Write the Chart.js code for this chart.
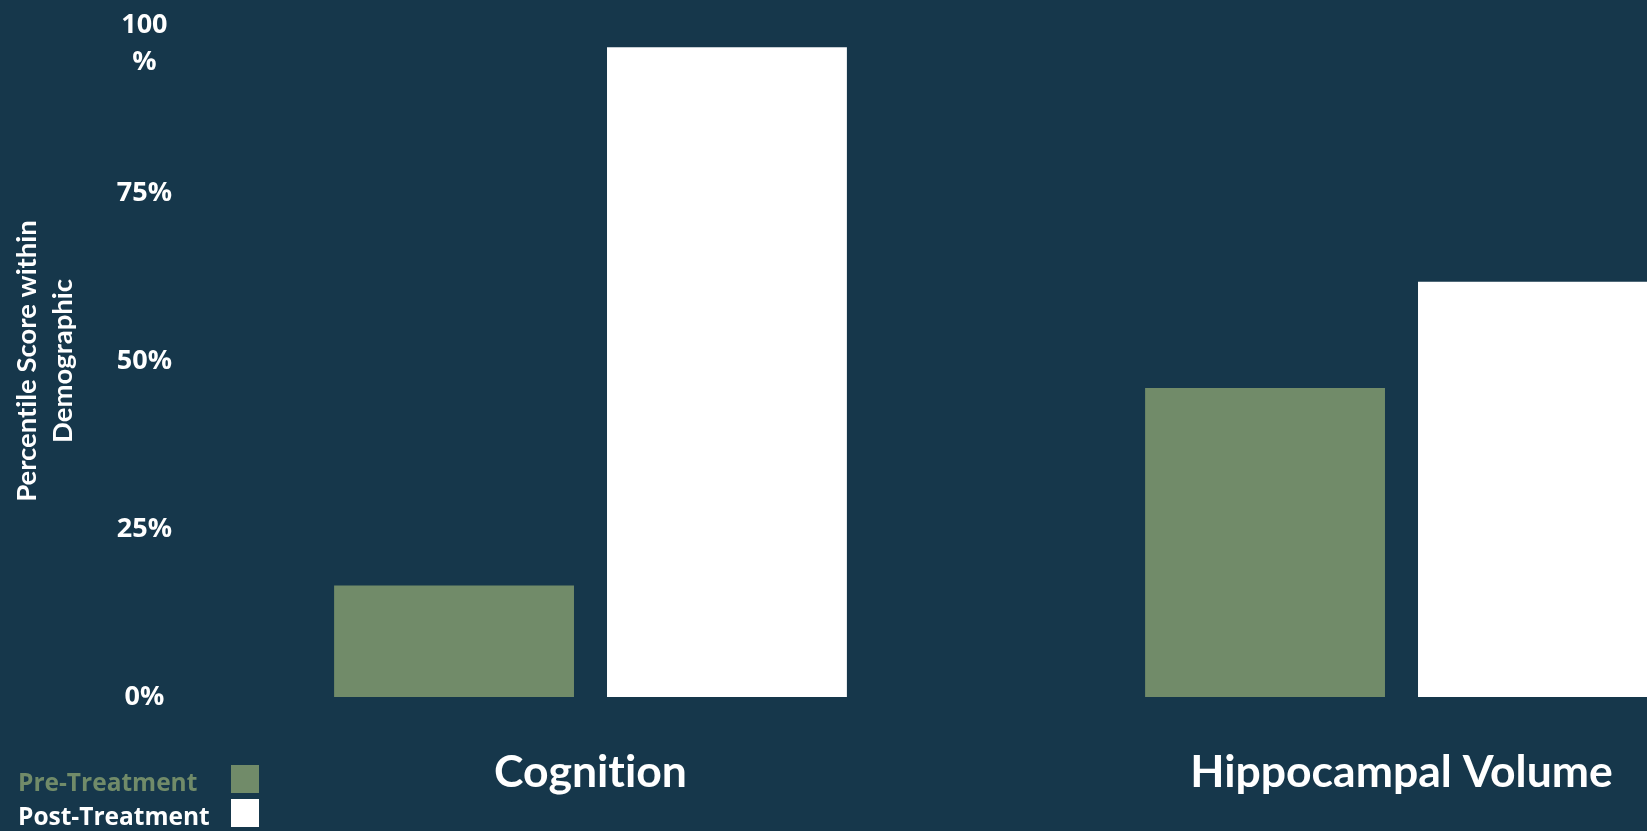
<!DOCTYPE html>
<html>
<head>
<meta charset="utf-8">
<title>Percentile Score within Demographic</title>
<script src="https://cdn.jsdelivr.net/npm/chart.js@4.4.1/dist/chart.umd.min.js"></script>
<style>
  html, body { margin: 0; padding: 0; background: #16374b; overflow: hidden; }
  /* the plot runs on past the right edge of the window, like the original slide */
  #chart-box { position: relative; width: 1807px; height: 831px; }
</style>
</head>
<body>
<div id="chart-box"><canvas id="treatment-chart"></canvas></div>
<script>
const categories = ["Cognition", "Hippocampal Volume"];
const preTreatment = [16.6, 46.0];
const postTreatment = [96.7, 61.8];
const tickValues = [0, 25, 50, 75, 100];
const tickLabels = ["0%", "25%", "50%", "75%", ["", "100", "%"]];
const yTitle = ["Percentile Score within", "Demographic"];

const GREEN = "#718b69";
const WHITE = "#ffffff";

// legend stacked in the bottom left corner, text first and box after it
const stackedLegend = {
  id: "stackedLegend",
  beforeDraw(chart) {
    // no "ti" ligature in Lato, the slide font has none
    chart.ctx.textRendering = "optimizeSpeed";
  },
  afterDraw(chart, args, opts) {
    const ctx = chart.ctx;
    ctx.save();
    ctx.font = opts.font;
    ctx.textBaseline = "middle";
    ctx.textAlign = "left";
    chart.data.datasets.forEach((ds, i) => {
      const y = opts.top + i * opts.rowHeight;
      ctx.fillStyle = ds.backgroundColor;
      ctx.fillText(ds.label, opts.left, y);
      ctx.fillRect(opts.boxLeft, y - opts.boxSize / 2 - 5, opts.boxSize, opts.boxSize);
    });
    ctx.restore();
  },
};

const ctx = document.getElementById("treatment-chart");

new Chart(ctx, {
  type: "bar",
  data: {
    labels: categories,
    datasets: [
      {
        label: "Pre-Treatment",
        data: preTreatment,
        backgroundColor: GREEN,
        barPercentage: 0.879,
        categoryPercentage: 0.673,
      },
      {
        label: "Post-Treatment",
        data: postTreatment,
        backgroundColor: WHITE,
        barPercentage: 0.879,
        categoryPercentage: 0.673,
      },
    ],
  },
  plugins: [stackedLegend],
  options: {
    responsive: true,
    maintainAspectRatio: false,
    animation: false,
    layout: {
      padding: { top: 25, right: 0, bottom: 0, left: 0 },
    },
    plugins: {
      legend: { display: false },
      tooltip: { enabled: false },
      stackedLegend: {
        font: "bold 24.5px 'Open Sans'",
        left: 18,
        top: 784,
        rowHeight: 34,
        boxLeft: 231,
        boxSize: 28,
      },
    },
    scales: {
      x: {
        grid: { display: false, drawTicks: false },
        border: { display: false },
        afterFit: (scale) => {
          scale.height = 134;
        },
        ticks: {
          color: WHITE,
          padding: 49,
          maxRotation: 0,
          autoSkip: false,
          font: { family: "Lato", size: 44.5, weight: "bold" },
        },
      },
      y: {
        min: 0,
        max: 100,
        grid: { display: false, drawTicks: false },
        border: { display: false },
        afterFit: (scale) => {
          scale.width = 185;
          scale.paddingTop = 0;
        },
        ticks: {
          stepSize: 25,
          color: WHITE,
          padding: 13,
          crossAlign: "center",
          font: { family: "'Open Sans'", size: 27, weight: "bold", lineHeight: 1.4 },
          callback: (value) => tickLabels[tickValues.indexOf(value)],
        },
        title: {
          display: true,
          text: yTitle,
          color: WHITE,
          padding: { top: 9, bottom: 0 },
          font: { family: "Lato", size: 27.5, weight: "bold", lineHeight: 1.3 },
        },
      },
    },
  },
});
</script>
</body>
</html>
